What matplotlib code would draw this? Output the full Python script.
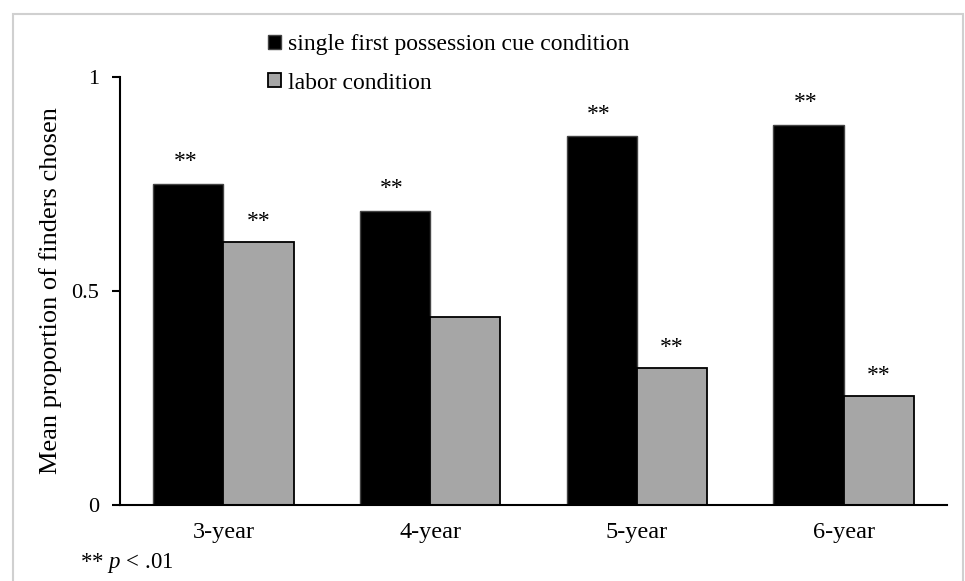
import numpy as np
import matplotlib
matplotlib.use("Agg")
import matplotlib.pyplot as plt
from matplotlib.patches import Rectangle

# data
ages = ["3-year", "4-year", "5-year", "6-year"]
single_cue = [0.750, 0.688, 0.861, 0.888]
labor = [0.614, 0.440, 0.319, 0.255]
single_sig = [True, True, True, True]
labor_sig = [True, False, True, True]
series_names = ["single first possession cue condition", "labor condition"]

plt.rcParams['font.family'] = ['Liberation Serif', 'DejaVu Serif']
plt.rcParams['mathtext.fontset'] = 'custom'
plt.rcParams['mathtext.rm'] = 'Liberation Serif'
plt.rcParams['mathtext.it'] = 'Liberation Serif:italic'

fig = plt.figure(figsize=(9.65, 5.81), dpi=100)
ax = fig.add_axes([120 / 965, 1 - 505 / 581, (947 - 120) / 965, (505 - 77) / 581])

x = np.arange(len(ages))
w = 0.34
b1 = ax.bar(x - w / 2, single_cue, w, color='black', edgecolor='#444444', lw=1,
            label=series_names[0])
b2 = ax.bar(x + w / 2, labor, w, color='#a6a6a6', edgecolor='black', lw=1.3,
            label=series_names[1])

# significance stars
for xi, v, s in zip(x - w / 2, single_cue, single_sig):
    if s:
        ax.annotate("**", (xi, v), xytext=(-2, 12), textcoords='offset points',
                    ha='center', va='baseline', fontsize=17)
for xi, v, s in zip(x + w / 2, labor, labor_sig):
    if s:
        ax.annotate("**", (xi, v), xytext=(0, 11), textcoords='offset points',
                    ha='center', va='baseline', fontsize=17)

ax.set_xlim(-0.5, 3.5)
ax.set_ylim(0, 1)
ax.set_yticks([0, 0.5, 1])
ax.set_yticklabels(["0", "0.5", "1"])
ax.set_xticks(x)
ax.set_xticklabels(ages)
ax.tick_params(axis='y', length=6, width=1.5, pad=9, labelsize=16)
ax.tick_params(axis='x', length=0, pad=12, labelsize=17.5)
ax.spines['top'].set_visible(False)
ax.spines['right'].set_visible(False)
ax.spines['left'].set_linewidth(1.5)
ax.spines['bottom'].set_linewidth(1.5)
ax.set_ylabel("Mean proportion of finders chosen", fontsize=19, labelpad=7)

ax.legend(loc='upper left', bbox_to_anchor=(268 / 965, 1 - 34 / 581),
          bbox_transform=fig.transFigure, frameon=False, fontsize=17,
          handlelength=0.55, handleheight=0.55, handletextpad=0.3,
          labelspacing=0.75, borderpad=0, borderaxespad=0)

fig.text(80 / 965, 1 - 563 / 581, r"** $p$ < .01", fontsize=16.5, va='center')

# outer frame
fig.patches.append(Rectangle((13 / 965, -0.02), 950 / 965, 1.02 - 14 / 581,
                             transform=fig.transFigure, fill=False,
                             edgecolor='#d0d0d0', lw=1.5))

fig.savefig("out.png", dpi=100)
